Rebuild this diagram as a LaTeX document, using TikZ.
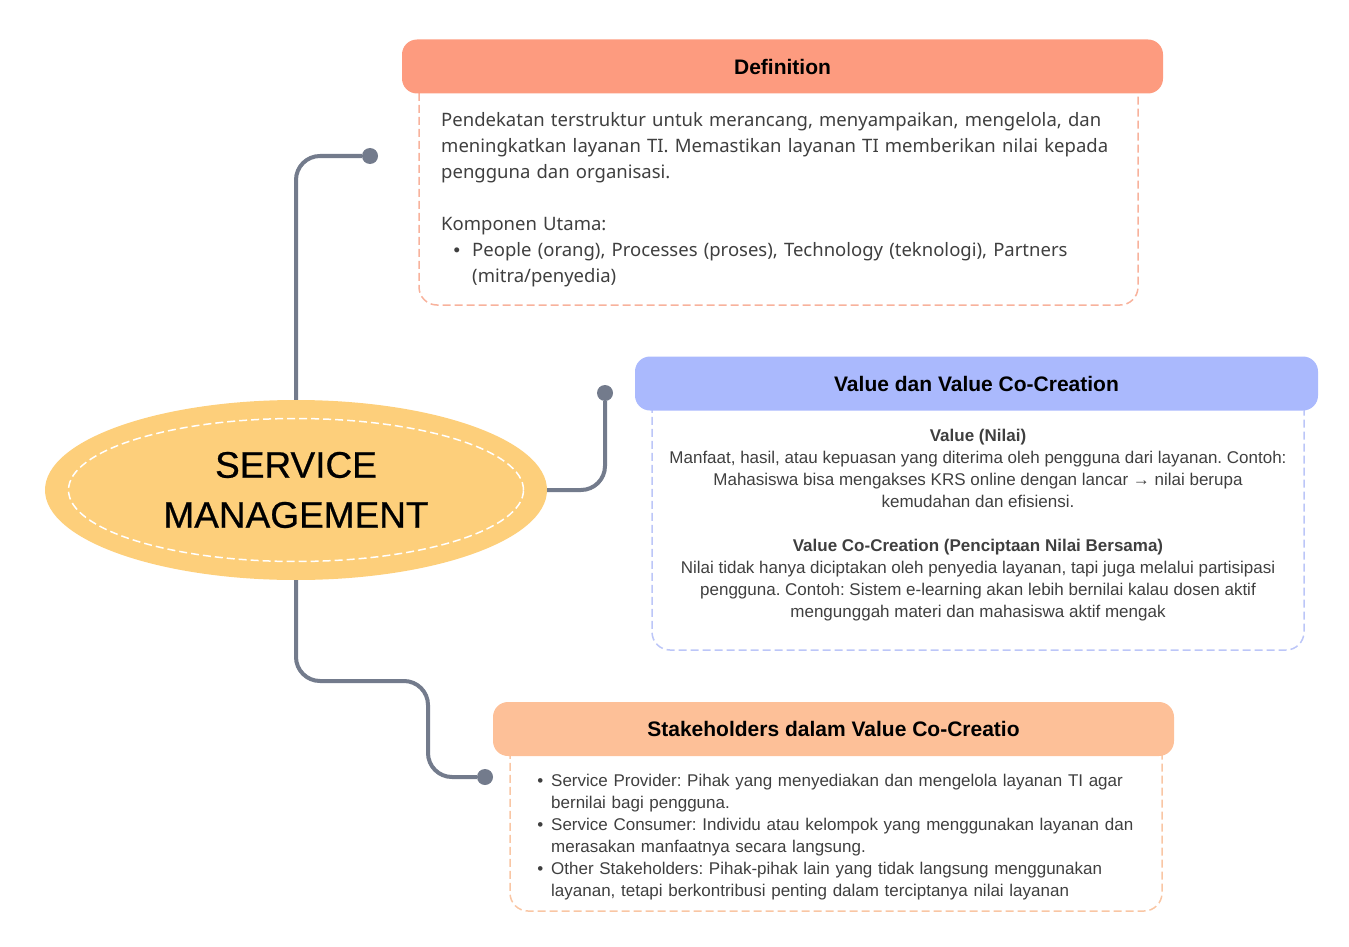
\documentclass[tikz,border=0pt]{standalone}
\usepackage{fontspec}
\setmainfont{Liberation Sans}
\newfontfamily\notofont{Noto Sans}
\newfontfamily\hubfont[FakeBold=0.6]{Liberation Sans}
\usepackage{enumitem}
\usetikzlibrary{shapes.geometric}
\definecolor{defhead}{HTML}{FD9B7F}
\definecolor{defline}{HTML}{F8B29C}
\definecolor{valhead}{HTML}{AAB9FD}
\definecolor{valline}{HTML}{BCC6F8}
\definecolor{stkhead}{HTML}{FDC098}
\definecolor{stkline}{HTML}{F9C6A4}
\definecolor{hubfill}{HTML}{FDCF7B}
\definecolor{linkgray}{HTML}{737B8C}
\definecolor{bodytext}{HTML}{3F3F3F}
\frenchspacing
\begin{document}
\begin{tikzpicture}[x=1pt,y=-1pt,
    hub/.style={ellipse,fill=hubfill,minimum width=502pt,minimum height=180pt,
      inner sep=0pt,align=center,font=\hubfont\fontsize{37}{50}\selectfont},
    head/.style={rounded corners=15pt,minimum height=54pt,inner sep=0pt,
      font=\fontsize{21}{25}\selectfont\bfseries},
    panel/.style={line width=1.5pt,dash pattern=on 8pt off 4pt,rounded corners=18pt,
      inner sep=0pt},
    link/.style={linkgray,line width=4pt,rounded corners=24pt},
    knob/.style={circle,fill=linkgray,minimum size=16pt,inner sep=0pt}]
  \useasboundingbox (0,0) rectangle (1349,947);
  % centre
  \node[hub] (hub) at (296,490) {SERVICE\\MANAGEMENT};
  \node[ellipse,draw=white,line width=1.5pt,dash pattern=on 8pt off 4pt,
    minimum width=455pt,minimum height=143pt] (hubring) at (hub.center) {};
  % links
  \node[knob] (k1) at (370,156) {};
  \node[knob] (k2) at (605,393) {};
  \node[knob] (k3) at (485,777) {};
  \coordinate (bend) at (428,681);
  \draw[link] (hub.north) |- (k1);
  \draw[link] (hub.east) -| (k2);
  \draw[link] (hub.south) |- (bend) |- (k3);
  % Definition
  \node[panel,draw=defline,minimum width=719pt,minimum height=239pt] (defbox) at (778.5,185.5) {};
  \node[head,fill=defhead,minimum width=761pt] (defhead) at (782.5,66.5) {Definition};
  \node[anchor=north west,inner sep=0pt,text width=720pt,align=left,text=bodytext,
    font=\notofont\fontsize{18.5}{26}\selectfont] (deftext) at (441,112)
    {Pendekatan terstruktur untuk merancang, menyampaikan, mengelola, dan\\
     meningkatkan layanan TI. Memastikan layanan TI memberikan nilai kepada\\
     pengguna dan organisasi.\\[26pt]
     Komponen Utama:
     \begin{itemize}[nosep,leftmargin=31pt,labelsep=12pt]
       \item People (orang), Processes (proses), Technology (teknologi), Partners\\
         (mitra/penyedia)
     \end{itemize}};
  % Value dan Value Co-Creation
  \node[panel,draw=valline,minimum width=652pt,minimum height=267pt] (valbox) at (978,516.5) {};
  \node[head,fill=valhead,minimum width=683pt] (valhead) at (976.5,383.5) {Value dan Value Co-Creation};
  \node[anchor=north,inner sep=0pt,align=center,text=bodytext,
    font=\fontsize{17}{22}\selectfont] (valtext) at (978,429)
    {\textbf{Value (Nilai)}\\
     Manfaat, hasil, atau kepuasan yang diterima oleh pengguna dari layanan. Contoh:\\
     Mahasiswa bisa mengakses KRS online dengan lancar → nilai berupa\\
     kemudahan dan efisiensi.\\[22pt]
     \textbf{Value Co-Creation (Penciptaan Nilai Bersama)}\\
     Nilai tidak hanya diciptakan oleh penyedia layanan, tapi juga melalui partisipasi\\
     pengguna. Contoh: Sistem e-learning akan lebih bernilai kalau dosen aktif\\
     mengunggah materi dan mahasiswa aktif mengak};
  % Stakeholders
  \node[panel,draw=stkline,minimum width=652pt,minimum height=182pt] (stkbox) at (836,820) {};
  \node[head,fill=stkhead,minimum width=681pt] (stkhead) at (833.5,729) {Stakeholders dalam Value Co-Creatio};
  \node[anchor=north west,inner sep=0pt,text width=640pt,align=left,text=bodytext,
    font=\fontsize{17}{22}\selectfont] (stktext) at (538,764)
    {\begin{itemize}[nosep,leftmargin=13pt,labelsep=8pt]
       \item Service Provider: Pihak yang menyediakan dan mengelola layanan TI agar\\
         bernilai bagi pengguna.
       \item Service Consumer: Individu atau kelompok yang menggunakan layanan dan\\
         merasakan manfaatnya secara langsung.
       \item Other Stakeholders: Pihak-pihak lain yang tidak langsung menggunakan\\
         layanan, tetapi berkontribusi penting dalam terciptanya nilai layanan
     \end{itemize}};
\end{tikzpicture}
\end{document}
